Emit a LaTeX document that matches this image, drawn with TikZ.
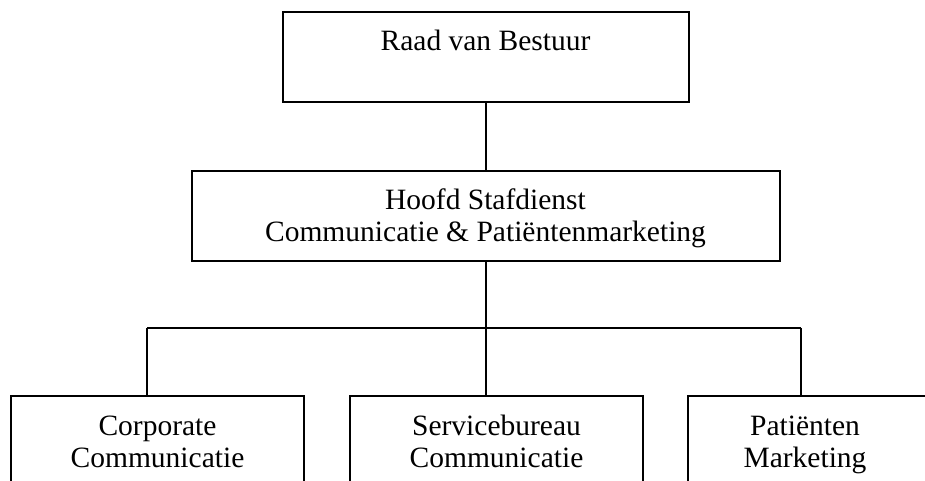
\documentclass[tikz,border=0pt]{standalone}
\usepackage{fontspec}
\setmainfont{Liberation Serif}
\begin{document}
\begin{tikzpicture}[x=1bp,y=-1bp,
  orgbox/.style={draw=black, line width=1.6bp, fill=none, rectangle,
                 inner sep=0pt, outer sep=0pt, anchor=north west},
  lbl/.style={inner sep=0pt, outer sep=0pt, anchor=base,
              font=\fontsize{29.5bp}{33bp}\selectfont},
  link/.style={draw=black, line width=1.4bp}]
  \useasboundingbox (0,0) rectangle (925,481);
  \clip (0,0) rectangle (925,481);

  % top level
  \node[orgbox, minimum width=406bp, minimum height=90bp] (rvb) at (283,12) {};
  \node[lbl] (rvb-t) at (485.5,51) {Raad van Bestuur};

  % staff department
  \node[orgbox, minimum width=588bp, minimum height=90bp] (hsd) at (192,171) {};
  \node[lbl] (hsd-t1) at (485.5,210) {Hoofd Stafdienst};
  \node[lbl] (hsd-t2) at (485.5,242) {Communicatie \& Patiëntenmarketing};

  % units (their lower parts run past the page edge)
  \node[orgbox, minimum width=293bp, minimum height=120bp] (cc) at (11,396) {};
  \node[lbl] (cc-t1) at (157.5,435) {Corporate};
  \node[lbl] (cc-t2) at (157.5,467) {Communicatie};

  \node[orgbox, minimum width=293bp, minimum height=120bp] (sc) at (350,396) {};
  \node[lbl] (sc-t1) at (496.5,435) {Servicebureau};
  \node[lbl] (sc-t2) at (496.5,467) {Communicatie};

  \node[orgbox, minimum width=260bp, minimum height=120bp] (pm) at (688,396) {};
  \node[lbl] (pm-t1) at (805,435) {Patiënten};
  \node[lbl] (pm-t2) at (805,467) {Marketing};

  % connectors
  \coordinate (busL) at (147,328);
  \coordinate (busR) at (801,328);
  \draw[link] (rvb.south) -- (rvb.south |- hsd.north);
  \draw[link] (hsd.south) -- (hsd.south |- busL);
  \draw[link] (busL) -- (busR);
  \draw[link] (busL) -- (busL |- cc.north);
  \draw[link] (hsd.south |- busL) -- (hsd.south |- sc.north);
  \draw[link] (busR) -- (busR |- pm.north);
\end{tikzpicture}
\end{document}
